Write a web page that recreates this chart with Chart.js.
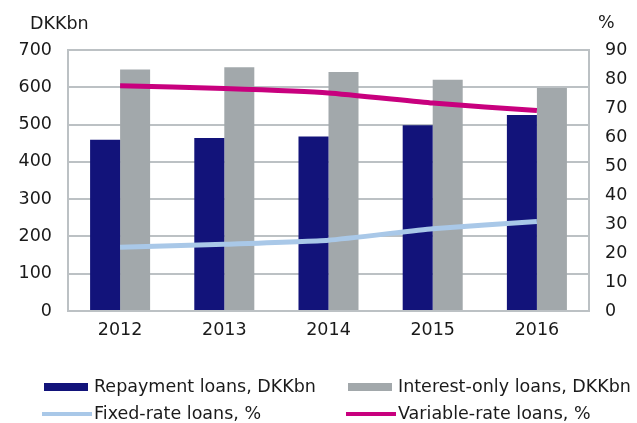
<!DOCTYPE html>
<html>
<head>
<meta charset="utf-8">
<script src="https://cdn.jsdelivr.net/npm/chart.js@4/dist/chart.umd.min.js"></script>
<style>
  html, body { margin: 0; padding: 0; background: #ffffff; }
  #wrap { position: relative; width: 637px; height: 423px; }
</style>
</head>
<body>
<div id="wrap"><canvas id="chart" width="637" height="423"></canvas></div>
<script>
// Mortgage lending by loan type, 2012–2016
const years = ['2012', '2013', '2014', '2015', '2016'];
const repaymentLoans = [459, 464, 468, 498, 526];      // DKKbn
const interestOnlyLoans = [648, 654, 641, 620, 598];   // DKKbn
const fixedRateShare = [22.0, 23.0, 24.4, 28.4, 30.9]; // %
const variableRateShare = [77.7, 76.7, 75.2, 71.7, 69.1]; // %
const leftTicks = [0, 100, 200, 300, 400, 500, 600, 700];
const rightTicks = [0, 10, 20, 30, 40, 50, 60, 70, 80, 90];

const FONT = 'DejaVu Sans, Verdana, sans-serif';
const FS = 17.5;
const TEXT = '#1a1a1a';
const GRID = '#bcc1c4';

const C_REPAY = '#12137a';
const C_IO = '#a2a8ab';
const C_FIXED = '#a9c8e8';
const C_VAR = '#c8007e';

// Axis unit captions and a two-column legend drawn on the canvas
const decorations = {
  id: 'decorations',
  afterDraw(chart) {
    const ctx = chart.ctx;
    ctx.save();
    ctx.fillStyle = TEXT;
    ctx.font = FS + 'px ' + FONT;
    ctx.textBaseline = 'alphabetic';
    ctx.textAlign = 'left';
    ctx.fillText('DKKbn', 30, 29);
    ctx.fillText('%', 598, 28);

    const ds = chart.data.datasets;
    const items = [
      { d: ds[2], x: 44, tx: 94, y: 387, kind: 'bar' },
      { d: ds[3], x: 348, tx: 398, y: 387, kind: 'bar' },
      { d: ds[0], x: 42, tx: 94, y: 414, kind: 'line' },
      { d: ds[1], x: 346, tx: 398, y: 414, kind: 'line' }
    ];
    items.forEach(it => {
      if (it.kind === 'bar') {
        ctx.fillStyle = it.d.backgroundColor;
        ctx.fillRect(it.x, it.y - 4, 44, 8);
      } else {
        ctx.fillStyle = it.d.borderColor;
        ctx.fillRect(it.x, it.y - 2, 50, 4);
      }
      ctx.fillStyle = TEXT;
      ctx.fillText(it.d.label, it.tx, it.y + 5);
    });
    ctx.restore();
  }
};

new Chart(document.getElementById('chart'), {
  data: {
    labels: years,
    datasets: [
      {
        type: 'line',
        label: 'Fixed-rate loans, %',
        data: fixedRateShare,
        yAxisID: 'y1',
        borderColor: C_FIXED,
        backgroundColor: C_FIXED,
        borderWidth: 5,
        pointRadius: 0,
        tension: 0.15,
        order: 0
      },
      {
        type: 'line',
        label: 'Variable-rate loans, %',
        data: variableRateShare,
        yAxisID: 'y1',
        borderColor: C_VAR,
        backgroundColor: C_VAR,
        borderWidth: 5,
        pointRadius: 0,
        tension: 0.15,
        order: 0
      },
      {
        type: 'bar',
        label: 'Repayment loans, DKKbn',
        data: repaymentLoans,
        yAxisID: 'y',
        backgroundColor: C_REPAY,
        categoryPercentage: 0.576,
        barPercentage: 1.0,
        order: 1
      },
      {
        type: 'bar',
        label: 'Interest-only loans, DKKbn',
        data: interestOnlyLoans,
        yAxisID: 'y',
        backgroundColor: C_IO,
        categoryPercentage: 0.576,
        barPercentage: 1.0,
        order: 1
      }
    ]
  },
  options: {
    responsive: false,
    animation: false,
    layout: { padding: { top: 50, left: 0, right: 0, bottom: 0 } },
    plugins: {
      legend: { display: false },
      tooltip: { enabled: false },
      title: { display: false }
    },
    scales: {
      x: {
        grid: { display: false, drawTicks: false },
        border: { display: true, color: GRID, width: 2 },
        ticks: { color: TEXT, font: { family: FONT, size: FS }, padding: 9, maxRotation: 0 },
        afterFit(scale) { scale.height = 112; }
      },
      y: {
        position: 'left',
        min: 0,
        max: 700,
        afterBuildTicks(scale) { scale.ticks = leftTicks.map(v => ({ value: v })); },
        grid: { color: GRID, lineWidth: 2, drawTicks: false },
        border: { display: true, color: GRID, width: 2 },
        ticks: { color: TEXT, font: { family: FONT, size: FS }, padding: 16 },
        afterFit(scale) { scale.width = 68; }
      },
      y1: {
        position: 'right',
        min: 0,
        max: 90,
        afterBuildTicks(scale) { scale.ticks = rightTicks.map(v => ({ value: v })); },
        grid: { display: false, drawTicks: false },
        border: { display: true, color: GRID, width: 2 },
        ticks: { color: TEXT, font: { family: FONT, size: FS }, padding: 16 },
        afterFit(scale) { scale.width = 48; }
      }
    }
  },
  plugins: [decorations]
});
</script>
</body>
</html>
